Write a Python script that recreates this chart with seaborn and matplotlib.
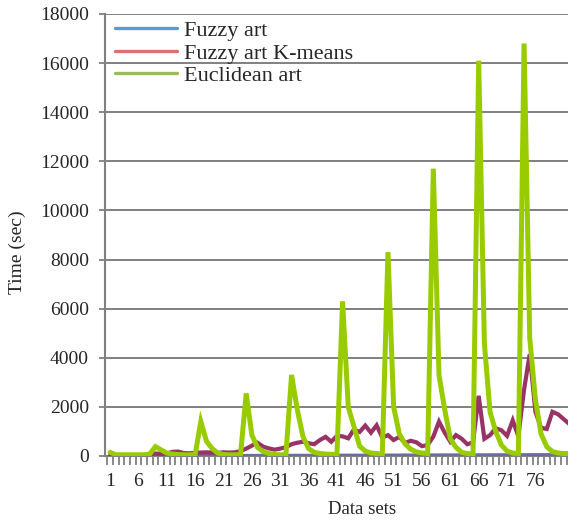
import numpy as np
import pandas as pd
import matplotlib
matplotlib.use("Agg")
import matplotlib.pyplot as plt
from matplotlib.lines import Line2D
from matplotlib.ticker import FixedLocator, NullFormatter
import seaborn as sns

# Run time per data set (seconds)
data_sets = list(range(1, 83))

fuzzy_art = [
    10, 10, 10, 10, 10, 10, 10, 10, 10, 10,
    12, 12, 12, 12, 12, 14, 14, 14, 14, 14,
    16, 16, 16, 18, 18, 18, 20, 20, 20, 20,
    22, 22, 22, 24, 24, 24, 26, 26, 26, 28,
    28, 28, 30, 30, 30, 30, 32, 32, 32, 34,
    34, 34, 36, 36, 36, 38, 38, 38, 40, 40,
    40, 40, 42, 42, 42, 44, 44, 44, 46, 46,
    46, 48, 48, 48, 50, 50, 50, 50, 52, 52,
    52, 52,
]

fuzzy_art_kmeans = [
    30, 30, 30, 30, 30, 30, 40, 80, 100, 90,
    100, 170, 180, 120, 110, 130, 140, 150, 140, 130,
    150, 140, 150, 200, 300, 420, 540, 380, 310, 260,
    300, 360, 480, 540, 580, 520, 480, 650, 780, 580,
    820, 800, 720, 1080, 980, 1240, 950, 1250, 750, 850,
    650, 780, 530, 620, 560, 400, 450, 790, 1400, 950,
    580, 850, 700, 480, 550, 2450, 700, 850, 1130, 1050,
    820, 1450, 800, 2700, 4150, 1800, 1150, 1100, 1800, 1700,
    1500, 1300,
]

euclidean_art = [
    150, 50, 50, 50, 50, 50, 50, 80, 380, 250,
    120, 80, 60, 50, 50, 60, 1400, 600, 300, 120,
    60, 50, 50, 50, 2550, 850, 350, 180, 100, 60,
    50, 50, 3300, 1900, 800, 300, 150, 100, 80, 70,
    60, 6300, 2000, 1200, 400, 200, 120, 100, 80, 8300,
    2000, 900, 500, 280, 170, 120, 100, 11700, 3300, 1900,
    700, 350, 150, 100, 80, 16100, 4600, 1800, 1000, 450,
    200, 120, 100, 16800, 4800, 2300, 900, 380, 180, 120,
    100, 100,
]

series_names = ["Fuzzy art", "Fuzzy art K-means", "Euclidean art"]
line_colors = ["#6b6ba8", "#993366", "#99cc00"]
legend_colors = ["#5b9bd5", "#e46c6c", "#9bbb59"]
x_tick_labels = [str(v) for v in range(1, 77, 5)]
y_ticks = list(range(0, 18001, 2000))

df = pd.DataFrame({
    "Data sets": data_sets * 3,
    "Time (sec)": fuzzy_art + fuzzy_art_kmeans + euclidean_art,
    "Method": [series_names[0]] * len(data_sets)
    + [series_names[1]] * len(data_sets)
    + [series_names[2]] * len(data_sets),
})

sns.set_style("white")
plt.rcParams["font.family"] = ["Liberation Serif", "DejaVu Serif"]

fig = plt.figure(figsize=(5.68, 5.22), dpi=100)
ax = fig.add_axes([105 / 568, 66 / 522, 463 / 568, (456 - 14) / 522])

widths = {series_names[0]: 2.4, series_names[1]: 3.0, series_names[2]: 3.6}
for name, color in zip(series_names, line_colors):
    sub = df[df["Method"] == name]
    sns.lineplot(data=sub, x="Data sets", y="Time (sec)", color=color,
                 linewidth=widths[name], ax=ax, legend=False, sort=False,
                 solid_joinstyle="miter", zorder=3)

grey = "#808080"
ax.set_xlim(0.1, 81.75)
ax.set_ylim(0, 18000)
ax.set_yticks(y_ticks)
ax.set_yticklabels([str(v) for v in y_ticks])
ax.yaxis.grid(True, color=grey, linewidth=1.4)
ax.xaxis.grid(False)
ax.set_axisbelow(True)

ax.set_xticks(list(range(1, 77, 5)))
ax.set_xticklabels(x_tick_labels)
ax.xaxis.set_minor_locator(FixedLocator([k + 0.5 for k in range(0, 82)]))
ax.xaxis.set_minor_formatter(NullFormatter())

ax.tick_params(axis="x", which="major", length=0, pad=12, labelsize=14)
ax.tick_params(axis="x", which="minor", length=6.5, width=1.3, color=grey,
               direction="out", bottom=True)
ax.tick_params(axis="y", which="major", length=4.5, width=1.3, color=grey,
               direction="out", pad=7, labelsize=14, left=True)

for side in ("top", "right"):
    ax.spines[side].set_visible(False)
for side in ("left", "bottom"):
    ax.spines[side].set_color(grey)
    ax.spines[side].set_linewidth(1.5)

ax.set_xlabel("Data sets", fontsize=13.5)
ax.set_ylabel("Time (sec)", fontsize=14)
ax.xaxis.set_label_coords(0.555, -0.102)
ax.yaxis.set_label_coords(-0.17, 0.46)

handles = [Line2D([0], [0], color=c, linewidth=2.4) for c in legend_colors]
leg = ax.legend(handles, series_names, loc="upper left",
                bbox_to_anchor=(-0.008, 1.015), frameon=False, fontsize=16,
                handlelength=2.8, handletextpad=0.3, labelspacing=0.08,
                borderaxespad=0.2)

fig.savefig("out.png", dpi=100)
